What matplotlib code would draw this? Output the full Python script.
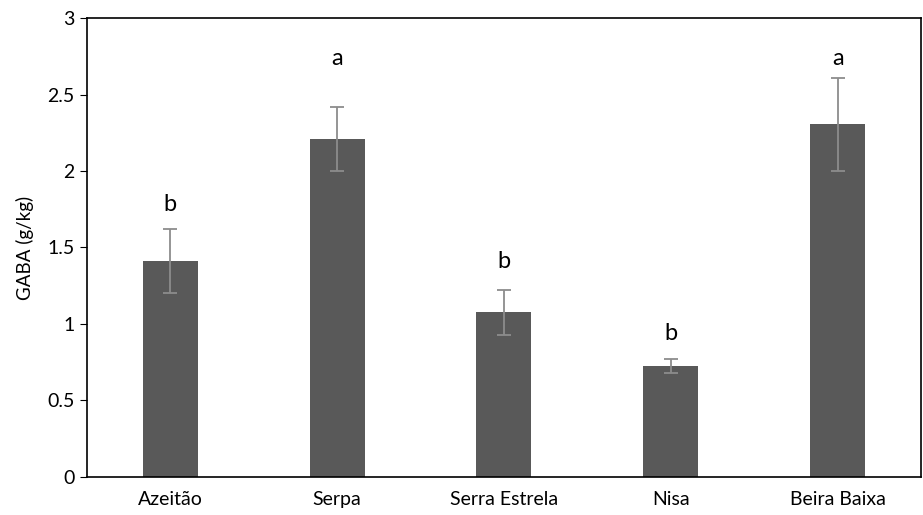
import numpy as np
import matplotlib.pyplot as plt

plt.rcParams['font.family'] = ['Lato', 'DejaVu Sans']

# veriler
cheeses = ['Azeitão', 'Serpa', 'Serra Estrela', 'Nisa', 'Beira Baixa']
gaba = [1.41, 2.21, 1.075, 0.725, 2.305]
err = [0.21, 0.21, 0.145, 0.045, 0.305]
letters = ['b', 'a', 'b', 'b', 'a']
letter_y = [1.71, 2.67, 1.34, 0.87, 2.67]  # harflerin alt kenari

fig = plt.figure(figsize=(9.23, 5.15), dpi=100)
ax = fig.add_axes([0.094, 0.074, 0.904, 0.891])

x = np.arange(len(cheeses))
ax.bar(x, gaba, width=0.33, color='#595959', zorder=2)
ax.errorbar(x, gaba, yerr=err, fmt='none', ecolor='#8c8c8c', elinewidth=1.3,
            capsize=5, capthick=1.3, zorder=3)

for xi, l, ly in zip(x, letters, letter_y):
    ax.text(xi, ly, l, ha='center', va='bottom', fontsize=17)

ax.set_xlim(-0.5, len(cheeses) - 0.5)
ax.set_ylim(0, 3)
ax.set_yticks([0, 0.5, 1, 1.5, 2, 2.5, 3])
ax.set_yticklabels(['0', '0.5', '1', '1.5', '2', '2.5', '3'])
ax.set_xticks(x)
ax.set_xticklabels(cheeses)
ax.tick_params(axis='x', length=0, labelsize=14, pad=10)
ax.tick_params(axis='y', length=5, labelsize=14, pad=4)
ax.set_ylabel('GABA (g/kg)', fontsize=13.5, labelpad=9)
for s in ax.spines.values():
    s.set_linewidth(1.2)

fig.savefig('out.png', dpi=100)
